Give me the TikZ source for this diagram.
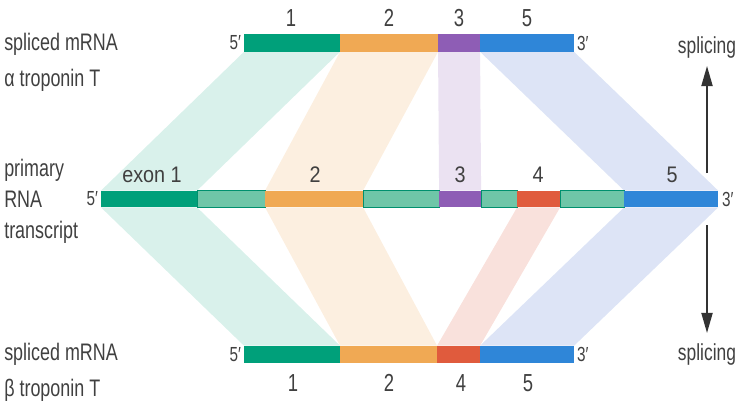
\documentclass[tikz,border=0pt]{standalone}
\usepackage{fontspec}
\setmainfont{Liberation Sans}[FakeStretch=0.75]
\newfontfamily\midfont{Liberation Sans}[FakeStretch=0.88]
\usetikzlibrary{positioning, backgrounds, arrows.meta}

\definecolor{exgreen}{HTML}{00A07A}
\definecolor{ingreen}{HTML}{6FC6A8}
\definecolor{exorange}{HTML}{F0A954}
\definecolor{expurple}{HTML}{8E5DB5}
\definecolor{exred}{HTML}{E05B3D}
\definecolor{exblue}{HTML}{2F86D8}
\definecolor{bandblue}{HTML}{DDE4F6}
\definecolor{txtgray}{HTML}{404040}

\tikzset{
	segnode/.style={
			rectangle,
			inner sep=0pt,
			outer sep=0pt,
			minimum height=0.44cm,
			anchor=west
		},
	intronnode/.style={
			segnode,
			fill=ingreen,
			draw=exgreen!90!black,
			line width=0.5pt
		},
	labeltext/.style={
			text=txtgray,
			inner sep=0pt,
			align=left,
			font=\fontsize{17}{25.5}\selectfont
		},
	numtext/.style={
			text=txtgray,
			inner sep=0pt,
			font=\fontsize{17.5}{20}\selectfont
		},
	midtext/.style={
			numtext,
			font=\midfont\fontsize{16}{19}\selectfont
		},
	endtext/.style={
			text=txtgray,
			inner sep=0pt,
			font=\fontsize{14.5}{17}\selectfont
		},
	splarrow/.style={
			draw=black!80,
			line width=1pt,
			-{Triangle[length=0.5cm, width=0.28cm]}
		}
}

\begin{document}
\begin{tikzpicture}[x=0.025cm, y=-0.025cm]
\useasboundingbox (0,0) rectangle (740,415);

% alpha troponin T
\node[segnode, fill=exgreen,  minimum width=2.4cm]  (t1) at (244,43) {};
\node[segnode, fill=exorange, minimum width=2.45cm] (t2) at (t1.east) {};
\node[segnode, fill=expurple, minimum width=1.05cm] (t3) at (t2.east) {};
\node[segnode, fill=exblue,   minimum width=2.35cm] (t5) at (t3.east) {};

% primary transcript
\node[segnode, fill=exgreen,  minimum width=2.4cm, minimum height=0.42cm]  (m1) at (101,199) {};
\node[intronnode, minimum width=1.7cm, minimum height=0.42cm]              (i1) at (m1.east) {};
\node[segnode, fill=exorange, minimum width=2.45cm, minimum height=0.42cm] (m2) at (i1.east) {};
\node[intronnode, minimum width=1.9cm, minimum height=0.42cm]              (i2) at (m2.east) {};
\node[segnode, fill=expurple, minimum width=1.05cm, minimum height=0.42cm] (m3) at (i2.east) {};
\node[intronnode, minimum width=0.9cm, minimum height=0.42cm]              (i3) at (m3.east) {};
\node[segnode, fill=exred,    minimum width=1.075cm, minimum height=0.42cm] (m4) at (i3.east) {};
\node[intronnode, minimum width=1.6cm, minimum height=0.42cm]              (i4) at (m4.east) {};
\node[segnode, fill=exblue,   minimum width=2.35cm, minimum height=0.42cm] (m5) at (i4.east) {};

% beta troponin T
\node[segnode, fill=exgreen,  minimum width=2.4cm]   (b1) at (244,354.5) {};
\node[segnode, fill=exorange, minimum width=2.425cm] (b2) at (b1.east) {};
\node[segnode, fill=exred,    minimum width=1.075cm] (b4) at (b2.east) {};
\node[segnode, fill=exblue,   minimum width=2.35cm]  (b5) at (b4.east) {};

\begin{scope}[on background layer]
\fill[exgreen!15]  (t1.south west) -- (t1.south east) -- (m1.north east) -- (m1.north west) -- cycle;
\fill[exorange!18] (t2.south west) -- (t2.south east) -- (m2.north east) -- (m2.north west) -- cycle;
\fill[expurple!18] (t3.south west) -- (t3.south east) -- (m3.north east) -- (m3.north west) -- cycle;
\fill[bandblue]    (t5.south west) -- (t5.south east) -- (m5.north east) -- (m5.north west) -- cycle;

\fill[exgreen!15]  (m1.south west) -- (m1.south east) -- (b1.north east) -- (b1.north west) -- cycle;
\fill[exorange!18] (m2.south west) -- (m2.south east) -- (b2.north east) -- (b2.north west) -- cycle;
\fill[exred!18]    (m4.south west) -- (m4.south east) -- (b4.north east) -- (b4.north west) -- cycle;
\fill[bandblue]    (m5.south west) -- (m5.south east) -- (b5.north east) -- (b5.north west) -- cycle;
\end{scope}

% ends
\node[endtext, left=0.07cm of t1]  (t5p) {5′};
\node[endtext, right=0.07cm of t5] (t3p) {3′};
\node[endtext, left=0.07cm of m1]  (m5p) {5′};
\node[endtext, right=0.09cm of m5] (m3p) {3′};
\node[endtext, left=0.07cm of b1]  (b5p) {5′};
\node[endtext, right=0.07cm of b5] (b3p) {3′};

% exon numbers
\node[numtext] (tn1) at (291,18) {1};
\node[numtext] (tn2) at (389,18) {2};
\node[numtext] (tn3) at (459,18) {3};
\node[numtext] (tn5) at (527,18) {5};

\node[midtext] (mn1) at (152,175) {exon 1};
\node[midtext] (mn2) at (315,175) {2};
\node[midtext] (mn3) at (460,175) {3};
\node[midtext] (mn4) at (538,175) {4};
\node[midtext] (mn5) at (672,175) {5};

\node[numtext] (bn1) at (293,383) {1};
\node[numtext] (bn2) at (389,383) {2};
\node[numtext] (bn4) at (461,383) {4};
\node[numtext] (bn5) at (528,383) {5};

% row titles
\node[labeltext, anchor=north west] (alab) at (4,33) {spliced mRNA\\α troponin T};
\node[labeltext, anchor=north west, font=\fontsize{17}{22}\selectfont] (plab) at (4,159) {primary\\RNA\\transcript};
\node[labeltext, anchor=north west] (blab) at (4,343) {spliced mRNA\\β troponin T};

% splicing
\node[endtext, font=\fontsize{16.5}{19}\selectfont] (spl1) at (707,47) {splicing};
\node[endtext, font=\fontsize{16.5}{19}\selectfont] (spl2) at (707,354) {splicing};
\coordinate (uptail) at (707,173);
\coordinate (dntail) at (707,225);
\draw[splarrow, shorten >=0.2cm]  (uptail) -- (spl1.south);
\draw[splarrow, shorten >=0.25cm] (dntail) -- (spl2.north);
\end{tikzpicture}
\end{document}
